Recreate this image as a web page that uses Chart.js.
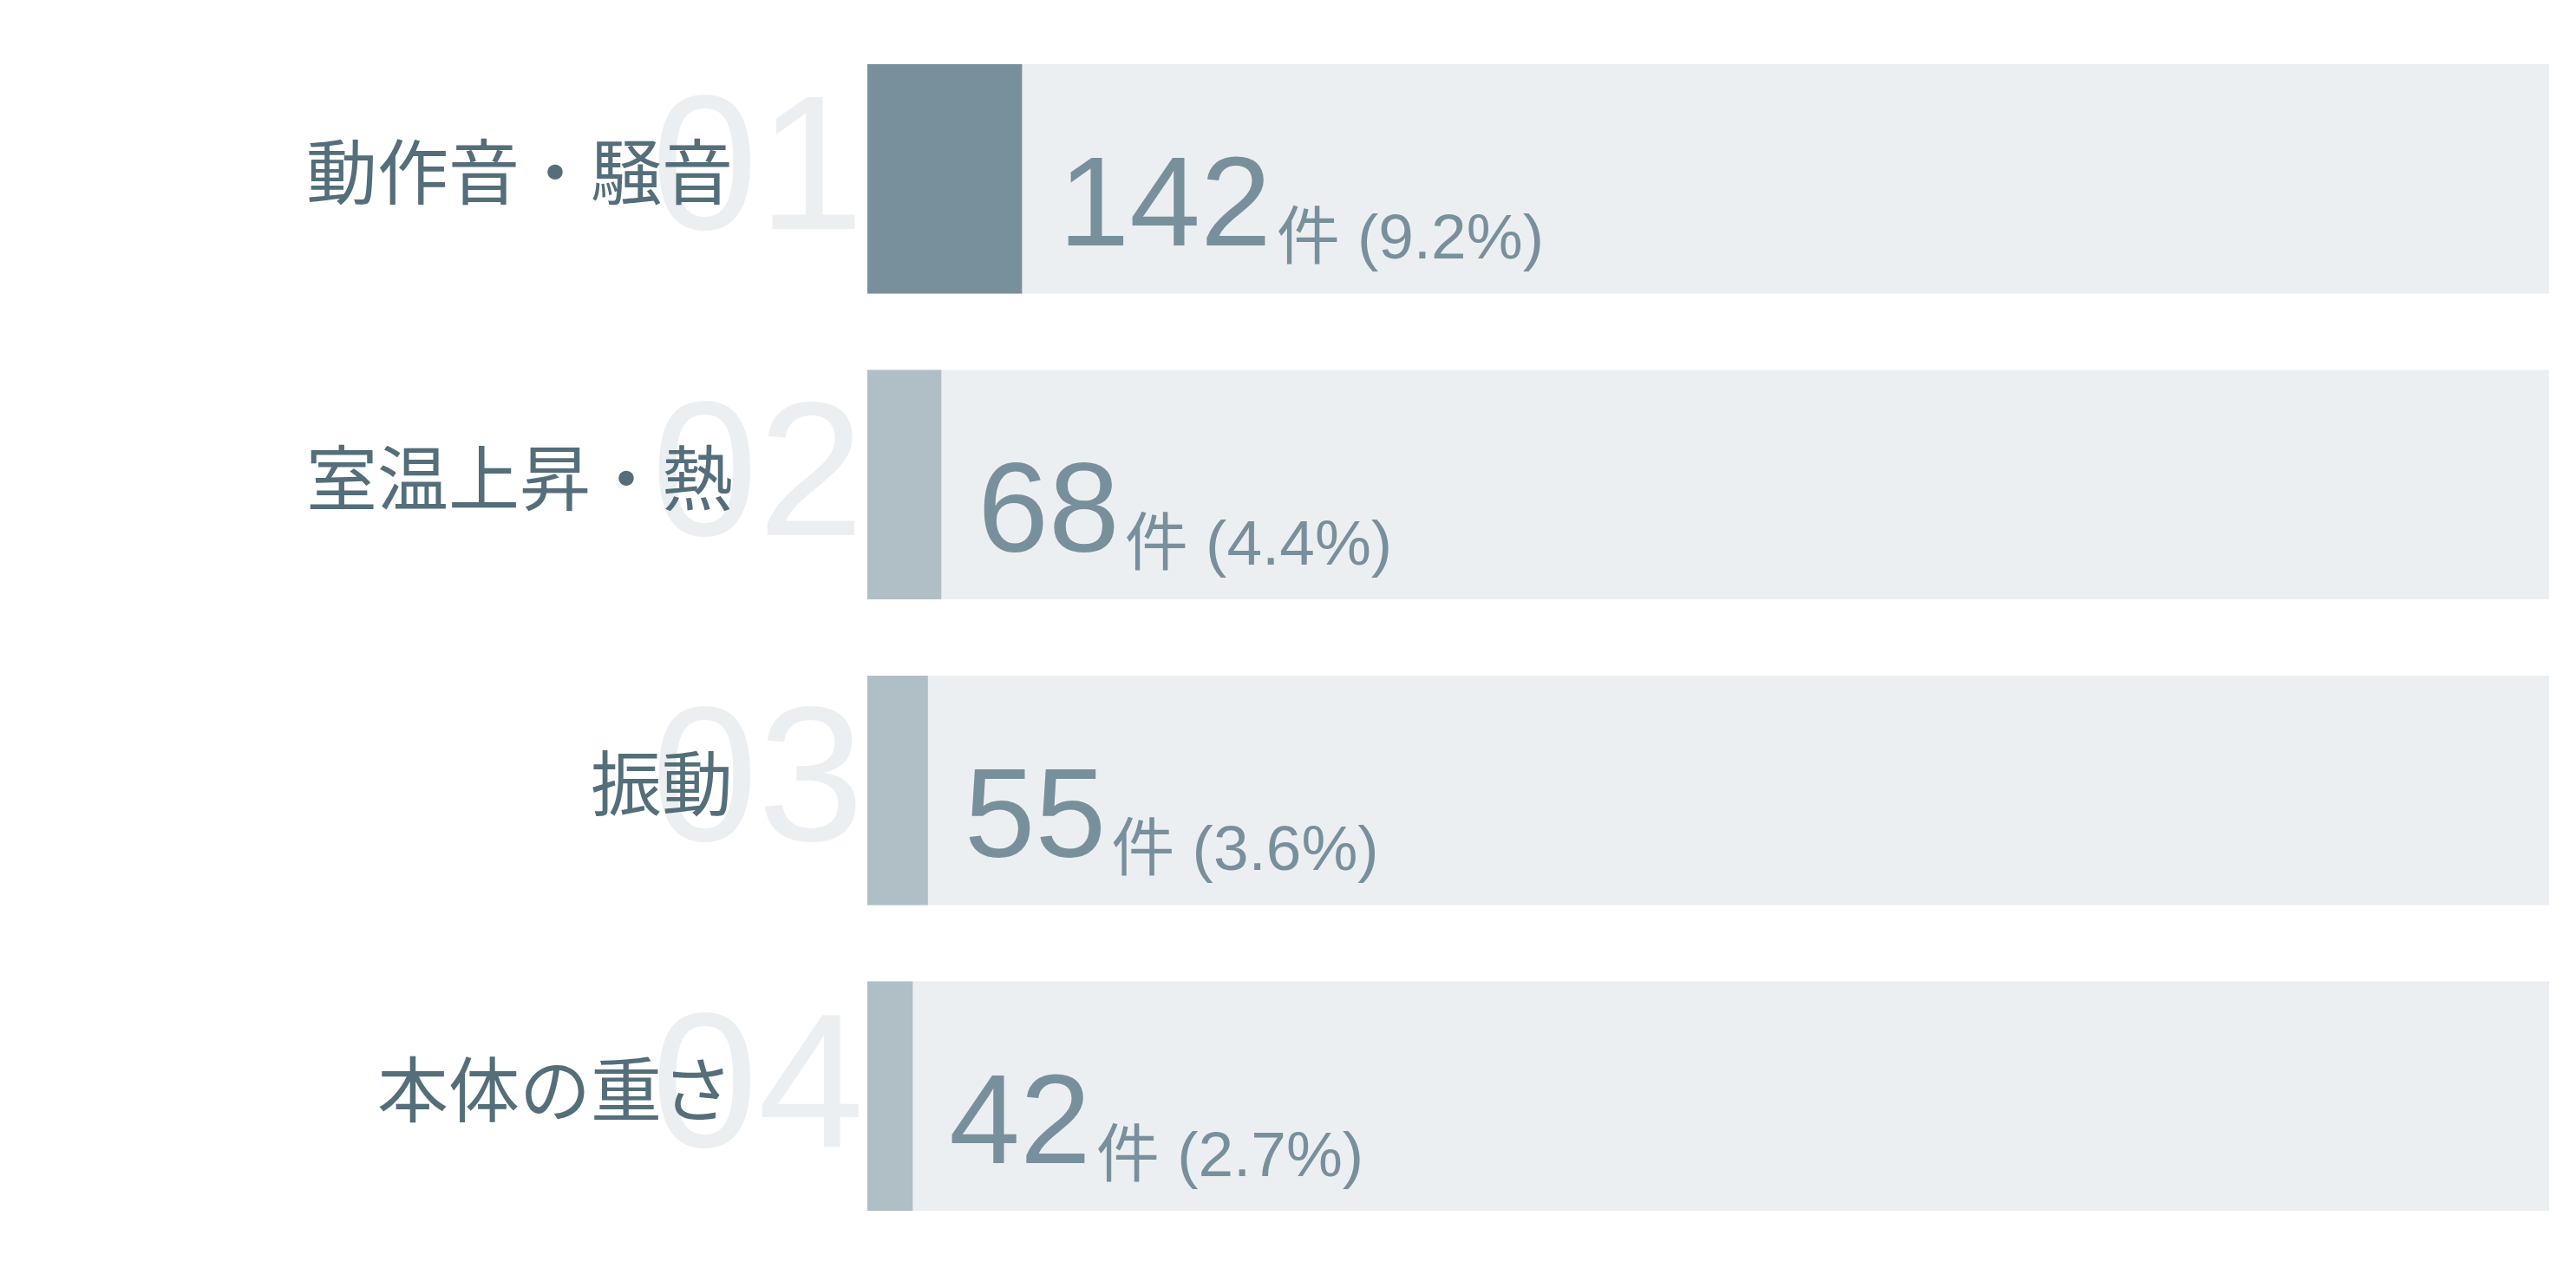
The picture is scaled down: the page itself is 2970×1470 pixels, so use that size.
<!DOCTYPE html>
<html lang="ja">
<head>
<meta charset="utf-8">
<title>不満の内訳</title>
<script src="https://cdn.jsdelivr.net/npm/chart.js@4.4.1/dist/chart.umd.min.js"></script>
<style>
  html, body { margin: 0; padding: 0; background: #ffffff; }
  #wrap { width: 2970px; height: 1470px; position: relative; }
</style>
</head>
<body>
<div id="wrap"><canvas id="complaint-chart"></canvas></div>
<script>
// Chart data
const categories = ['動作音・騒音', '室温上昇・熱', '振動', '本体の重さ'];
const ranks = ['01', '02', '03', '04'];
const counts = [142, 68, 55, 42];
const percents = [9.2, 4.4, 3.6, 2.7];
const trackValues = [100, 100, 100, 100];

const FONT = '"Noto Sans CJK JP", "Noto Sans", sans-serif';
const NUM_FONT = '"Liberation Sans", "Noto Sans CJK JP", sans-serif';
const fillColors = ['#78909c', '#b0bec5', '#b0bec5', '#b0bec5'];

// Big faded rank numbers behind the category labels
const rankPlugin = {
    id: 'rankNumbers',
    beforeDraw(chart) {
        const ctx = chart.ctx;
        const yScale = chart.scales.y;
        ctx.save();
        ctx.font = '400 220px ' + NUM_FONT;
        ctx.fillStyle = '#eceff1';
        ctx.textAlign = 'right';
        ctx.textBaseline = 'alphabetic';
        ranks.forEach((r, i) => {
            ctx.fillText(r, chart.chartArea.left - 4, yScale.getPixelForValue(i) + 58);
        });
        ctx.restore();
    }
};

// Count + percent labels to the right of each bar
const valuePlugin = {
    id: 'valueLabels',
    afterDatasetsDraw(chart) {
        const ctx = chart.ctx;
        const bars = chart.getDatasetMeta(0).data;
        ctx.save();
        ctx.fillStyle = '#78909c';
        ctx.textAlign = 'left';
        ctx.textBaseline = 'alphabetic';
        bars.forEach((bar, i) => {
            const x = bar.x + 42;
            ctx.font = '400 147px ' + NUM_FONT;
            const big = String(counts[i]);
            ctx.fillText(big, x, bar.y + 77);
            const w = ctx.measureText(big).width;
            ctx.font = '400 73px ' + NUM_FONT;
            ctx.fillText('件 (' + percents[i].toFixed(1) + '%)', x + w + 6, bar.y + 92);
        });
        ctx.restore();
    }
};

function createComplaintChart() {
    const ctx = document.getElementById('complaint-chart').getContext('2d');
    const data = {
        labels: categories,
        datasets: [{
            label: '割合',
            data: percents,
            backgroundColor: fillColors,
            borderWidth: 0,
            grouped: false,
            barPercentage: 1,
            categoryPercentage: 0.75
        }, {
            label: 'track',
            data: trackValues,
            backgroundColor: '#eceff1',
            borderWidth: 0,
            grouped: false,
            barPercentage: 1,
            categoryPercentage: 0.75
        }]
    };

    const config = {
        type: 'bar',
        data: data,
        options: {
            indexAxis: 'y',
            responsive: true,
            maintainAspectRatio: false,
            animation: false,
            layout: { padding: { top: 30, bottom: 30, right: 31, left: 0 } },
            plugins: {
                legend: { display: false },
                tooltip: { enabled: false }
            },
            scales: {
                x: { min: 0, max: 100, display: false },
                y: {
                    grid: { display: false, drawTicks: false },
                    border: { display: false },
                    ticks: {
                        color: '#546e7a',
                        font: { family: FONT, size: 82, weight: '400' },
                        padding: 155,
                        labelOffset: -8
                    },
                    afterFit(scale) {
                        // fixed label column; drop the extra top/bottom room the big tick padding asks for
                        scale.width = 1000;
                        scale.paddingTop = 0;
                        scale.paddingBottom = 0;
                    }
                }
            }
        },
        plugins: [rankPlugin, valuePlugin]
    };

    new Chart(ctx, config);
}

createComplaintChart();
</script>
</body>
</html>
